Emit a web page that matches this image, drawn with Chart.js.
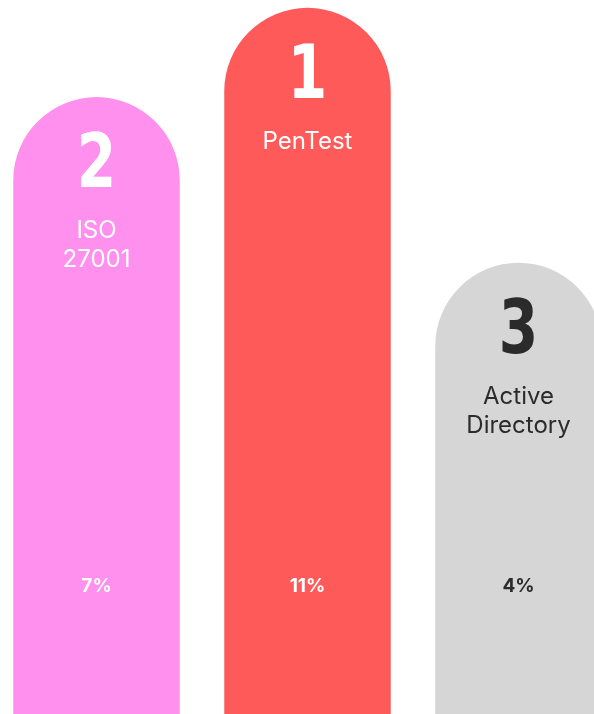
<!DOCTYPE html>
<html>
<head>
<meta charset="utf-8">
<script src="https://cdn.jsdelivr.net/npm/chart.js@4.4.1/dist/chart.umd.min.js"></script>
<style>
  html, body { margin: 0; padding: 0; background: #ffffff; overflow: hidden; }
  #wrap { position: absolute; left: -9px; top: 0; width: 633px; height: 714px; }
</style>
</head>
<body>
<div id="wrap"><canvas id="c"></canvas></div>
<script>
// ---- data ----
const categories = ['ISO 27001', 'PenTest', 'Active Directory'];
const labelLines = [['ISO', '27001'], ['PenTest'], ['Active', 'Directory']];
const ranks = ['2', '1', '3'];
const shares = [7, 11, 4];              // percent labels
const barLevels = [86.4, 98.9, 63.2];   // visual bar heights (0-100 scale)
const barColors = ['#FF90EE', '#FF5A5A', '#D6D6D6'];
const textColors = ['#FFFFFF', '#FFFFFF', '#2B2B2B'];

const textPlugin = {
  id: 'barText',
  afterDatasetsDraw(chart) {
    const ctx = chart.ctx;
    const meta = chart.getDatasetMeta(0);
    const yScale = chart.scales.y;
    meta.data.forEach((bar, i) => {
      const x = bar.x;
      const top = bar.y;
      ctx.save();
      ctx.fillStyle = textColors[i];
      ctx.textAlign = 'center';
      ctx.textBaseline = 'alphabetic';
      ctx.save();
      ctx.translate(x, top + 90);
      ctx.scale(0.84, 1);
      ctx.font = 'bold 75px "DejaVu Sans Condensed", "DejaVu Sans", sans-serif';
      ctx.fillText(ranks[i], 0, 0);
      ctx.restore();
      ctx.font = '400 24px Inter, Roboto, sans-serif';
      labelLines[i].forEach((ln, k) => {
        ctx.fillText(ln, x, top + 141 + k * 29);
      });
      ctx.font = 'bold 19px Inter, Roboto, sans-serif';
      ctx.fillText(shares[i] + '%', x, yScale.getPixelForValue(17.1));
      ctx.restore();
    });
  }
};

new Chart(document.getElementById('c'), {
  type: 'bar',
  data: {
    labels: categories,
    datasets: [{
      data: barLevels,
      backgroundColor: barColors,
      borderWidth: 0,
      borderSkipped: 'bottom',
      borderRadius: { topLeft: 100, topRight: 100, bottomLeft: 0, bottomRight: 0 },
      barPercentage: 0.789,
      categoryPercentage: 1
    }]
  },
  options: {
    responsive: true,
    maintainAspectRatio: false,
    animation: false,
    layout: { padding: 0 },
    plugins: { legend: { display: false }, tooltip: { enabled: false } },
    scales: {
      x: { display: false },
      y: { display: false, min: 0, max: 100 }
    }
  },
  plugins: [textPlugin]
});
</script>
</body>
</html>
